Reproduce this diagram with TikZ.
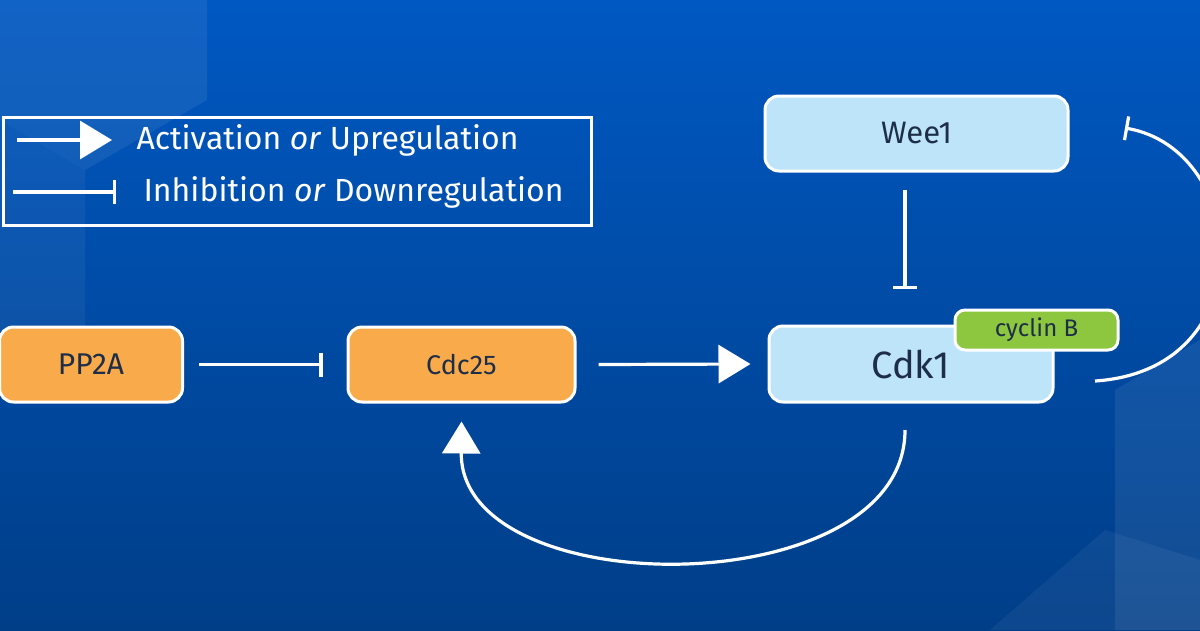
\documentclass[tikz,border=0pt]{standalone}
\usepackage{fontspec}
\setmainfont{Fira Sans}
\usetikzlibrary{arrows.meta}
\definecolor{bgtop}{HTML}{0058C2}
\definecolor{bgbot}{HTML}{003E88}
\definecolor{orng}{HTML}{F9AB4B}
\definecolor{lblue}{HTML}{BDE4F9}
\definecolor{grn}{HTML}{8DC63F}
\definecolor{ink}{HTML}{1E2D48}
\tikzset{
  box/.style={draw=white,line width=3pt,rounded corners=14pt,text=ink,inner sep=0pt},
  con/.style={draw=white,line width=3.2pt},
  act/.style={con,-{Triangle[length=32pt,width=38pt]}},
  inh/.style={con,-{Bar[width=24pt,line width=3.2pt]}},
}
\begin{document}
\begin{tikzpicture}[x=1pt,y=-1pt]
\useasboundingbox (0,0) rectangle (1200,630);
\shade[top color=bgtop,bottom color=bgbot] (0,0) rectangle (1200,630);
% faint hexagon shapes
\fill[white,opacity=0.07] (0,0) -- (207,0) -- (207,100) -- (85,170) -- (0,120) -- cycle;
\fill[white,opacity=0.05] (0,120) -- (85,170) -- (85,330) -- (0,380) -- cycle;
\fill[white,opacity=0.07] (1115,390) -- (1200,340) -- (1200,630) -- (1115,630) -- cycle;
\fill[white,opacity=0.05] (990,630) -- (1105,530) -- (1200,560) -- (1200,630) -- cycle;
% legend
\node[draw=white,line width=3pt,minimum width=588pt,minimum height=108pt,anchor=north west] (leg) at (2,116) {};
\coordinate (la1) at (17,140); \coordinate (la2) at (112,140);
\draw[act] (la1) -- (la2);
\node[text=white,anchor=west,font=\fontsize{32}{36}\selectfont] (lt1) at (133,140) {Activation \textit{or} Upregulation};
\coordinate (li1) at (13,192); \coordinate (li2) at (116,192);
\draw[inh] (li1) -- (li2);
\node[text=white,anchor=west,font=\fontsize{32}{36}\selectfont] (lt2) at (140,192) {Inhibition \textit{or} Downregulation};
% nodes
\node[box,fill=orng,minimum width=183pt,minimum height=75pt,font=\fontsize{30}{34}\selectfont] (pp) at (91,364.5) {PP2A};
\node[box,fill=orng,minimum width=227pt,minimum height=75pt,font=\fontsize{27}{30}\selectfont] (cdc) at (461.5,364.5) {Cdc25};
\node[box,fill=lblue,minimum width=284pt,minimum height=76pt,font=\fontsize{38}{42}\selectfont] (cdk) at (911,364) {Cdk1};
\node[box,fill=grn,minimum width=163pt,minimum height=40pt,rounded corners=10pt,font=\fontsize{24}{28}\selectfont] (cyc) at (1036.5,330) {cyclin B};
\node[box,fill=lblue,minimum width=303pt,minimum height=75pt,font=\fontsize{31}{34}\selectfont] (wee) at (916.5,133.5) {Wee1};
% connectors
\draw[inh] ([xshift=15pt]pp.east) -- ([xshift=-24pt]cdc.west);
\draw[act] ([xshift=22pt]cdc.east) -- ([xshift=-17pt]cdk.west);
\draw[inh] (905,190) -- (905,289);
\coordinate (c1) at (1095,381);
\coordinate (c2) at (1125,128);
\draw[inh] (c1) .. controls (1265,370) and (1250,150) .. (c2);
\coordinate (b1) at (905,430);
\draw[act] (b1) .. controls (905,605) and (460,605) .. ([yshift=-18pt]cdc.south);
\end{tikzpicture}
\end{document}
